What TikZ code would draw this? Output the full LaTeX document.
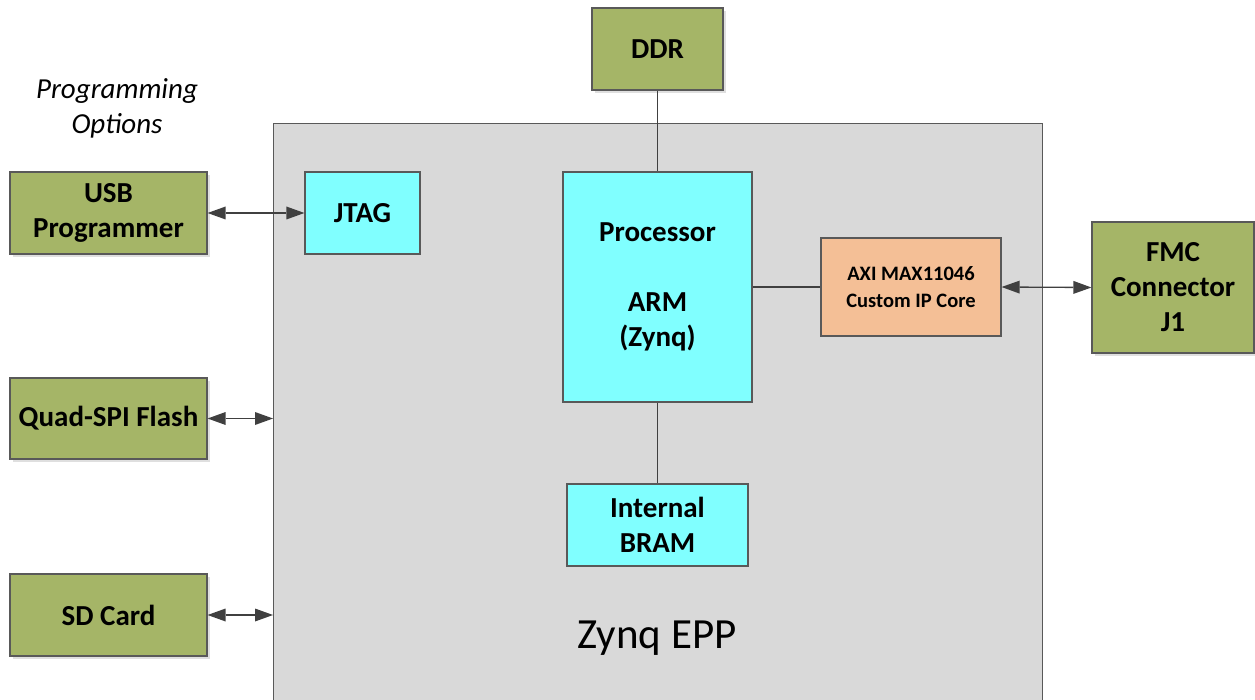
\documentclass[tikz,border=0pt]{standalone}
\usepackage{fontspec}
\setmainfont{Carlito}
\usetikzlibrary{arrows.meta,shadows}
\definecolor{olivebox}{HTML}{A5B567}
\definecolor{cyanbox}{HTML}{80FFFF}
\definecolor{peachbox}{HTML}{F4BF96}
\definecolor{zynqgray}{HTML}{D9D9D9}
\definecolor{edgegray}{HTML}{595959}
\definecolor{linegray}{HTML}{404040}
\tikzset{
  box/.style={draw=edgegray, line width=1.2pt, inner sep=0pt, align=center,
    font=\fontsize{29}{35}\selectfont\bfseries},
  greenbox/.style={box, fill=olivebox, drop shadow={shadow xshift=3pt, shadow yshift=-3pt, fill=black!25, opacity=0.5}},
  cyanblk/.style={box, fill=cyanbox},
  conn/.style={draw=linegray, line width=1.3pt},
  tip/.tip={Triangle[length=18pt,width=13pt,line width=0pt]},
  biarrow/.style={conn, tip-tip},
}
\begin{document}
\begin{tikzpicture}[x=1pt,y=-1pt]
\useasboundingbox (0,0) rectangle (1255,700);
% big Zynq box
\node[draw=edgegray, fill=zynqgray, line width=1.2pt, minimum width=769pt, minimum height=590pt, anchor=north west, inner sep=0pt] (zynq) at (273,123) {};
\node[font=\fontsize{43}{50}\selectfont] (zlabel) at (657,638) {Zynq EPP};
% green boxes
\node[greenbox, minimum width=131pt, minimum height=82pt] (ddr) at (657.5,49) {DDR};
\node[greenbox, minimum width=197pt, minimum height=82pt] (usb) at (108.5,213) {USB\\Programmer};
\node[greenbox, minimum width=197pt, minimum height=81pt] (qspi) at (108.5,418.5) {Quad-SPI Flash};
\node[greenbox, minimum width=162pt, minimum height=131pt] (fmc) at (1173,287.5) {FMC\\Connector\\J1};
\node[greenbox, minimum width=197pt, minimum height=82pt] (sd) at (108.5,615) {SD Card};
% inner blocks
\node[cyanblk, minimum width=115pt, minimum height=82pt] (jtag) at (362.5,213) {JTAG};
\node[cyanblk, minimum width=189pt, minimum height=230pt] (proc) at (657.5,287) {Processor\\ \\ARM\\(Zynq)};
\node[cyanblk, minimum width=181pt, minimum height=82pt] (bram) at (657.5,525) {Internal\\BRAM};
\node[box, fill=peachbox, minimum width=180pt, minimum height=98pt, font=\fontsize{20.5}{27}\selectfont\bfseries] (axi) at (911,287) {AXI MAX11046\\Custom IP Core};
% programming options
\node[font=\fontsize{29}{35}\selectfont\itshape, align=center] (popt) at (117,108) {Programming\\Options};
% connectors
\draw[conn] (ddr.south) -- (proc.north);
\draw[conn] (proc.south) -- (bram.north);
\draw[conn] (proc.east |- axi.west) -- (axi.west);
\draw[biarrow] (usb.east) -- (jtag.west);
\draw[biarrow] (qspi.east) -- (qspi.east -| zynq.west);
\draw[biarrow] (sd.east) -- (sd.east -| zynq.west);
\draw[biarrow] (axi.east) -- (fmc.west);
\end{tikzpicture}
\end{document}
